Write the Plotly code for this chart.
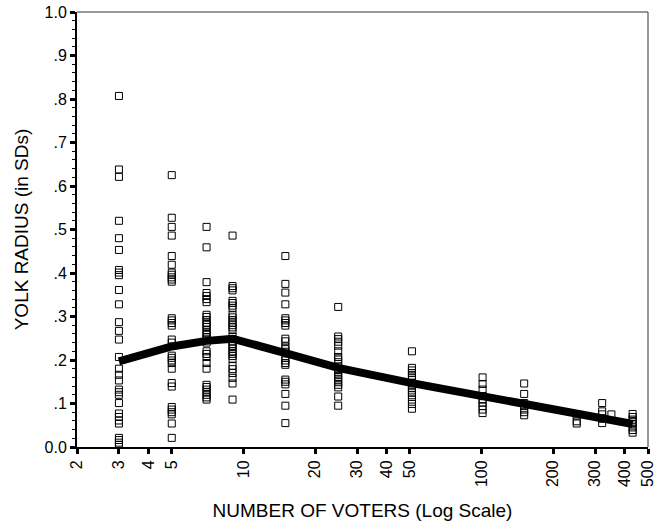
import math
import plotly.graph_objects as go

# Group sizes (number of voters) and observed yolk radii
groups = [3, 5, 7, 9, 15, 25, 51, 101, 151, 251, 321, 351, 431]
radii = {
    3: [0.807, 0.638, 0.621, 0.520, 0.480, 0.453, 0.407, 0.401, 0.395, 0.361, 0.328,
        0.287, 0.267, 0.247, 0.207, 0.180, 0.166, 0.153, 0.132, 0.126, 0.120, 0.101,
        0.077, 0.069, 0.061, 0.054, 0.021, 0.016, 0.010, 0.005],
    5: [0.625, 0.527, 0.506, 0.486, 0.439, 0.419, 0.401, 0.396, 0.390, 0.385, 0.380,
        0.296, 0.291, 0.285, 0.279, 0.247, 0.240, 0.210, 0.205, 0.199, 0.193, 0.180,
        0.147, 0.139, 0.092, 0.086, 0.080, 0.075, 0.054, 0.021],
    7: [0.506, 0.459, 0.379, 0.354, 0.347, 0.340, 0.333, 0.304, 0.299, 0.292, 0.286,
        0.281, 0.276, 0.269, 0.263, 0.258, 0.252, 0.247, 0.240, 0.220, 0.214, 0.207,
        0.193, 0.180, 0.143, 0.138, 0.132, 0.126, 0.120, 0.114, 0.109],
    9: [0.486, 0.370, 0.365, 0.360, 0.336, 0.331, 0.325, 0.319, 0.304, 0.298, 0.292,
        0.286, 0.280, 0.275, 0.269, 0.254, 0.248, 0.243, 0.237, 0.232, 0.226, 0.220,
        0.214, 0.209, 0.202, 0.187, 0.179, 0.170, 0.159, 0.146, 0.109],
    15: [0.439, 0.375, 0.355, 0.328, 0.296, 0.291, 0.285, 0.279, 0.249, 0.243, 0.231,
         0.225, 0.219, 0.205, 0.199, 0.193, 0.189, 0.155, 0.150, 0.144, 0.122, 0.095,
         0.055],
    25: [0.322, 0.254, 0.248, 0.242, 0.233, 0.220, 0.207, 0.201, 0.195, 0.185, 0.179,
         0.173, 0.167, 0.161, 0.155, 0.149, 0.143, 0.137, 0.116, 0.095],
    51: [0.220, 0.182, 0.176, 0.170, 0.164, 0.158, 0.147, 0.142, 0.136, 0.130, 0.125,
         0.119, 0.109, 0.099, 0.088],
    101: [0.160, 0.145, 0.132, 0.117, 0.109, 0.102, 0.094, 0.086, 0.078],
    151: [0.146, 0.122, 0.101, 0.094, 0.086, 0.080, 0.073],
    251: [0.072, 0.059, 0.054],
    321: [0.101, 0.082, 0.075, 0.065, 0.055],
    351: [0.075],
    431: [0.076, 0.069, 0.063, 0.057, 0.052, 0.045, 0.039, 0.033],
}
# Fitted (mean) curve
fit_x = [3, 5, 7, 9, 15, 25, 51, 101, 151, 251, 321, 431]
fit_y = [0.197, 0.231, 0.244, 0.249, 0.216, 0.182, 0.147, 0.117, 0.096, 0.075, 0.065, 0.053]

x_ticks = [2, 3, 4, 5, 10, 20, 30, 40, 50, 100, 200, 300, 400, 500]
y_ticks = [0.0, 0.1, 0.2, 0.3, 0.4, 0.5, 0.6, 0.7, 0.8, 0.9, 1.0]
y_tick_labels = ["0.0", ".1", ".2", ".3", ".4", ".5", ".6", ".7", ".8", ".9", "1.0"]

pts_x, pts_y = [], []
for g in groups:
    for v in radii[g]:
        pts_x.append(g)
        pts_y.append(v)

FONT = "Liberation Sans, Arial, sans-serif"

fig = go.Figure()
fig.add_trace(go.Scatter(
    x=pts_x, y=pts_y, mode="markers",
    marker=dict(symbol="square-open", size=7, color="black", line=dict(width=1, color="black")),
    cliponaxis=False, showlegend=False,
))
fig.add_trace(go.Scatter(
    x=fit_x, y=fit_y, mode="lines",
    line=dict(color="black", width=8),
    showlegend=False,
))

fig.update_layout(
    width=657, height=529, autosize=False,
    margin=dict(l=77, r=9, t=12, b=82),
    paper_bgcolor="white", plot_bgcolor="white",
    font=dict(family=FONT, color="black", size=16),
    shapes=[
        dict(type="line", xref="paper", yref="paper", x0=0, x1=1, y0=1, y1=1,
             line=dict(color="#333333", width=1)),
        dict(type="line", xref="paper", yref="paper", x0=1, x1=1, y0=0, y1=1,
             line=dict(color="#333333", width=1)),
    ],
)
fig.update_xaxes(
    type="log", range=[math.log10(2) - 1e-5, math.log10(500) + 1e-5], automargin=False,
    tickvals=x_ticks, ticktext=[str(t) for t in x_ticks],
    tickangle=-90, ticks="outside", ticklen=5, tickwidth=3, tickcolor="black",
    ticklabeloverflow="allow",
    showline=True, linecolor="black", linewidth=2, showgrid=False, zeroline=False,
    tickfont=dict(size=16),
    title=dict(text="NUMBER OF VOTERS (Log Scale)", font=dict(size=19), standoff=18),
)
fig.update_yaxes(
    range=[0, 1], automargin=False,
    tickvals=y_ticks, ticktext=y_tick_labels,
    ticks="outside", ticklen=5, tickwidth=3, tickcolor="black",
    minor=dict(dtick=0.02, ticks="outside", ticklen=3, tickwidth=1, tickcolor="black"),
    showline=True, linecolor="black", linewidth=2, showgrid=False, zeroline=False,
    tickfont=dict(size=16),
    title=dict(text="YOLK RADIUS (in SDs)", font=dict(size=19), standoff=11),
)

fig.write_html(
    "out.html",
    config={"displayModeBar": False},
    post_script="document.body.style.margin='0';document.body.style.overflow='hidden';",
)
